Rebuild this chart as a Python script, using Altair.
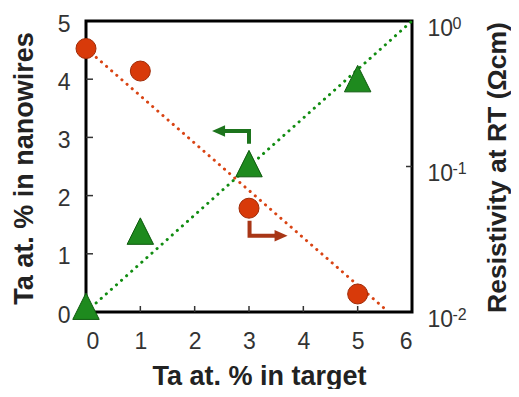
import altair as alt
import pandas as pd

# ---- data ----
target = [0, 1, 3, 5]                      # Ta at. % in target
ta_nanowires = [0.10, 1.39, 2.55, 4.01]    # Ta at. % in nanowires (left axis)
resistivity = [0.647, 0.453, 0.0517, 0.0133]  # Ohm cm (right axis, log)

green_fit_x = [0, 6]
green_fit_y = [0, 5]
red_fit_x = [0, 5.49]
red_fit_y = [0.647, 0.0106]

# annotation arrows (left-axis units)
green_arrow_x = [3.0, 3.0, 2.44]
green_arrow_y = [2.89, 3.11, 3.11]
red_arrow_x = [3.01, 3.01, 3.59]
red_arrow_y = [1.57, 1.31, 1.31]

x_tick_vals = [1, 2, 3, 4, 5]
left_tick_vals = [1, 2, 3, 4]
right_tick_vals = [0.1]
right_label_vals = [0.01, 0.1, 1]
right_exponents = ["-2", "-1", "0"]

FONT = "Liberation Sans"
LABEL_COLOR = "#333333"
TITLE_COLOR = "#222222"

xs = alt.Scale(domain=[0, 6], nice=False, zero=False)
yl = alt.Scale(domain=[0, 5], nice=False, zero=False)
yr = alt.Scale(type="log", domain=[0.01, 1], nice=False)

x_axis = alt.Axis(values=[0, 1, 2, 3, 4, 5, 6], format="d", grid=False, domain=False, ticks=False,
                  labelFontSize=23, labelColor=LABEL_COLOR, labelPadding=18,
                  title="Ta at. % in target", titleFontSize=27, titleFontWeight="bold",
                  titleColor=TITLE_COLOR, titleBaseline="alphabetic", titleAlign="center",
                  titleX=173, titleY=72)
yl_axis = alt.Axis(values=[0, 1, 2, 3, 4, 5], format="d", grid=False, domain=False, ticks=False,
                   labelFontSize=23, labelColor=LABEL_COLOR, labelPadding=16, labelOffset=3,
                   title="Ta at. % in nanowires", titleFontSize=27, titleFontWeight="bold",
                   titleColor=TITLE_COLOR, titleAngle=270, titleBaseline="alphabetic",
                   titleAlign="center", titleX=-54, titleY=147, orient="left")
yr_axis = alt.Axis(values=right_label_vals, labelExpr="'10'", grid=False, domain=False, ticks=False,
                   labelFontSize=23, labelColor=LABEL_COLOR, labelPadding=15, labelOffset=7,
                   labelAlign="left",
                   title="Resistivity at RT (Ωcm)", titleFontSize=26.5, titleFontWeight="bold",
                   titleColor=TITLE_COLOR, titleAngle=270, titleBaseline="alphabetic",
                   titleAlign="center", titleX=93, titleY=146, orient="right")

X = lambda f: alt.X(f, type="quantitative", scale=xs, axis=x_axis)
YL = lambda f: alt.Y(f, type="quantitative", scale=yl, axis=yl_axis)
YR = lambda f: alt.Y(f, type="quantitative", scale=yr, axis=yr_axis)

pts = pd.DataFrame({"x": target, "ta": ta_nanowires, "rho": resistivity})
gfit = pd.DataFrame({"x": green_fit_x, "y": green_fit_y})
rfit = pd.DataFrame({"x": red_fit_x, "y": red_fit_y})
garrow = pd.DataFrame({"x": green_arrow_x, "y": green_arrow_y, "o": [0, 1, 2]})
rarrow = pd.DataFrame({"x": red_arrow_x, "y": red_arrow_y, "o": [0, 1, 2]})
ghead = garrow.iloc[[-1]]
rhead = rarrow.iloc[[-1]]
xt = pd.DataFrame({"x": x_tick_vals, "y": [0] * len(x_tick_vals)})
lt = pd.DataFrame({"x": [0] * len(left_tick_vals), "y": left_tick_vals})
rt = pd.DataFrame({"x": [6] * len(right_tick_vals), "y": right_tick_vals})
sup = pd.DataFrame({"x": [6] * 3, "y": right_label_vals, "s": right_exponents})

green_line = alt.Chart(gfit).mark_line(color="#118c11", strokeWidth=3, strokeDash=[0.1, 6.7],
                                       strokeCap="round").encode(x=X("x"), y=YL("y"))
green_arrow = alt.Chart(garrow).mark_line(color="#1d741d", strokeWidth=4).encode(
    x=X("x"), y=YL("y"), order="o:Q")
green_head = alt.Chart(ghead).mark_point(shape="M-1,0L1,-0.9L1,0.9Z", filled=True, size=169,
                                         color="#1d741d", opacity=1).encode(x=X("x"), y=YL("y"))
red_arrow = alt.Chart(rarrow).mark_line(color="#a83616", strokeWidth=4).encode(
    x=X("x"), y=YL("y"), order="o:Q")
red_head = alt.Chart(rhead).mark_point(shape="M1,0L-1,-0.9L-1,0.9Z", filled=True, size=169,
                                       color="#a83616", opacity=1).encode(x=X("x"), y=YL("y"))
triangles = alt.Chart(pts).mark_point(shape="M0,-1L-1,1L1,1Z", filled=True, size=700,
                                      fill="#1e8a1e", stroke="#0d5a0d", strokeWidth=1,
                                      opacity=1).encode(x=X("x"), y=YL("ta"))
x_ticks = alt.Chart(xt).mark_rule(color=LABEL_COLOR, strokeWidth=1.5, y2Offset=-6).encode(
    x=X("x"), y=YL("y"), y2="y")
l_ticks = alt.Chart(lt).mark_rule(color=LABEL_COLOR, strokeWidth=1.5, x2Offset=7).encode(
    x=X("x"), x2="x", y=YL("y"))

red_line = alt.Chart(rfit).mark_line(color="#d94414", strokeWidth=3, strokeDash=[0.1, 6.7],
                                     strokeCap="round").encode(x=X("x"), y=YR("y"))
circles = alt.Chart(pts).mark_point(shape="circle", filled=True, size=400, fill="#d83a0a",
                                    stroke="#a02a06", strokeWidth=1, opacity=1).encode(
    x=X("x"), y=YR("rho"))
r_ticks = alt.Chart(rt).mark_rule(color=LABEL_COLOR, strokeWidth=1.5, x2Offset=-6).encode(
    x=X("x"), x2="x", y=YR("y"))
sups = alt.Chart(sup).mark_text(align="left", baseline="alphabetic", dx=40.5, dy=7.5,
                                fontSize=16, color=LABEL_COLOR, font=FONT).encode(
    x=X("x"), y=YR("y"), text="s:N")

left = alt.layer(green_line, red_arrow, red_head, green_arrow, green_head, triangles, x_ticks, l_ticks)
right = alt.layer(red_line, circles, r_ticks, sups)

chart = alt.layer(left, right).resolve_scale(y="independent").properties(
    width=326, height=291,
    padding={"left": 78, "top": 13, "right": 99, "bottom": 77},
    autosize=alt.AutoSizeParams(type="none"),
).configure_view(stroke="black", strokeWidth=3).configure_axis(
    labelFont=FONT, titleFont=FONT
)

chart.save("out.html", embed_options={"renderer": "svg", "actions": False})
